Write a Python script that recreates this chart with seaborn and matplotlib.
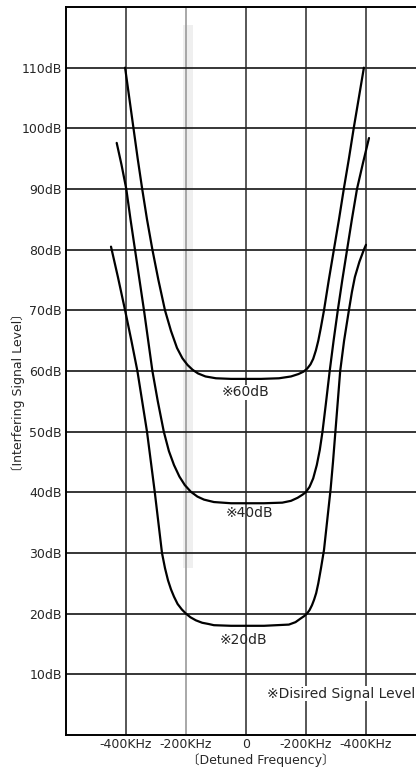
import pandas as pd
import matplotlib
matplotlib.use('Agg')
import matplotlib.pyplot as plt
import seaborn as sns

sns.set_style('white')
plt.rcParams['font.family'] = ['DejaVu Sans', 'Noto Sans CJK JP']

# curve for desired signal level 60dB
freq_60 = [-403, -389, -375, -361, -346, -330, -312, -292, -270, -250, -230, -212, -195,
           -178, -160, -135, -100, -50, 0, 50, 110, 150, 175, 192, 204, 215, 224, 233,
           241, 249, 260, 276, 293, 310, 326, 343, 359, 376, 393]
level_60 = [110, 105, 100, 95, 90, 85, 80, 75, 70, 66.6, 63.8, 62.1, 61,
            60.2, 59.6, 59.1, 58.8, 58.7, 58.7, 58.7, 58.8, 59.1, 59.5, 59.9, 60.4, 61.1, 62, 63.4,
            65, 67, 70, 75, 80, 85, 90, 95, 100, 105, 110]

# curve for desired signal level 40dB
freq_40 = [-431, -415, -399, -385, -370, -355, -340, -326, -312, -294, -274, -257, -240,
           -222, -204, -184, -162, -140, -107, -50, 0, 60, 121, 150, 172, 188, 199, 212,
           224, 236, 246, 255, 266, 279, 292, 306, 321, 337, 353, 370, 390, 410]
level_40 = [97.6, 94, 90, 85, 80, 75, 70, 65, 60, 55, 50, 46.8, 44.5,
            42.6, 41.2, 40.1, 39.3, 38.8, 38.4, 38.2, 38.2, 38.2, 38.3, 38.6, 39.1, 39.6, 40, 40.9,
            42.3, 44.5, 47, 50, 54.5, 60, 65, 70, 75, 80, 85, 90, 94.3, 98.4]

# curve for desired signal level 20dB
freq_20 = [-450, -427, -403, -382, -362, -346, -330, -317, -304, -292, -280, -270, -260,
           -250, -240, -228, -214, -200, -185, -167, -146, -125, -107, -50, 0, 60,
           143, 165, 182, 194, 203, 212, 220, 227, 234, 241, 250, 260, 271, 282, 290,
           298, 306, 314, 327, 343, 353, 363, 378, 393, 400]
level_20 = [80.5, 75.5, 70, 65, 60, 55, 50, 45, 40, 35, 30, 27.5, 25.5,
            24, 22.8, 21.6, 20.7, 20, 19.4, 18.9, 18.5, 18.3, 18.1, 18.0, 18.0, 18.0,
            18.2, 18.6, 19.2, 19.6, 20, 20.6, 21.4, 22.3, 23.4, 25, 27.5, 30.5, 35.5, 40.5, 45,
            50, 55, 60, 65, 70, 73, 75.5, 78, 80, 80.8]

y_ticks = [10, 20, 30, 40, 50, 60, 70, 80, 90, 100, 110]
y_labels = ['10dB', '20dB', '30dB', '40dB', '50dB', '60dB', '70dB', '80dB', '90dB', '100dB', '110dB']
x_ticks = [-400, -200, 0, 200, 400]
x_labels = ['-400KHz', '-200KHz', '0', '-200KHz', '-400KHz']

df = pd.concat([
    pd.DataFrame({'freq': freq_60, 'level': level_60, 'curve': '60dB'}),
    pd.DataFrame({'freq': freq_40, 'level': level_40, 'curve': '40dB'}),
    pd.DataFrame({'freq': freq_20, 'level': level_20, 'curve': '20dB'}),
])

fig = plt.figure(figsize=(4.16, 7.74), dpi=100)
ax = fig.add_axes([66 / 416, 39 / 774, 350 / 416, 728 / 774])

# faint scan band around the -200KHz line
ax.axvspan(-210, -175, ymin=27.5 / 120, ymax=117 / 120, color='#efefef', lw=0, zorder=0)

sns.lineplot(data=df, x='freq', y='level', hue='curve', units='curve', estimator=None,
             sort=False, palette=['black'] * 3, linewidth=1.6, legend=False, ax=ax, zorder=3)

ax.set_xlim(-600, 566.7)
ax.set_ylim(0, 120)
ax.set_yticks(y_ticks)
ax.set_yticklabels(y_labels, fontsize=9)
ax.set_xticks(x_ticks)
ax.set_xticklabels(x_labels, fontsize=9)
ax.tick_params(axis='both', length=0)
ax.tick_params(axis='y', pad=3)
ax.tick_params(axis='x', pad=2.5)
ax.set_xlabel('')
ax.set_ylabel('')

ax.grid(True, color='#262626', linewidth=1.3)
for i, gl in enumerate(ax.xaxis.get_gridlines()):
    gl.set_color('#9a9a9a' if i == 1 else '#3a3a3a')
    gl.set_linewidth(1.2)

for side in ['left', 'bottom', 'top']:
    ax.spines[side].set_color('black')
    ax.spines[side].set_linewidth(1.4)
ax.spines['right'].set_visible(False)

ax.text(0, 56.5, '※60dB', ha='center', va='center', fontsize=10,
        bbox=dict(facecolor='white', edgecolor='none', pad=0.5), zorder=4)
ax.text(13, 36.6, '※40dB', ha='center', va='center', fontsize=10, zorder=4)
ax.text(-10, 15.7, '※20dB', ha='center', va='center', fontsize=10, zorder=4)
ax.text(563, 6.8, '※Disired Signal Level', ha='right', va='center', fontsize=10,
        bbox=dict(facecolor='white', edgecolor='none', pad=0.5), zorder=4)

fig.text(261 / 416, 1 - 760 / 774, '〔Detuned Frequency〕', ha='center', va='center', fontsize=9)
fig.text(18 / 416, 1 - 393 / 774, '〔Interfering Signal Level〕', ha='center', va='center',
         rotation=90, fontsize=9)

fig.savefig('out.png', dpi=100)
